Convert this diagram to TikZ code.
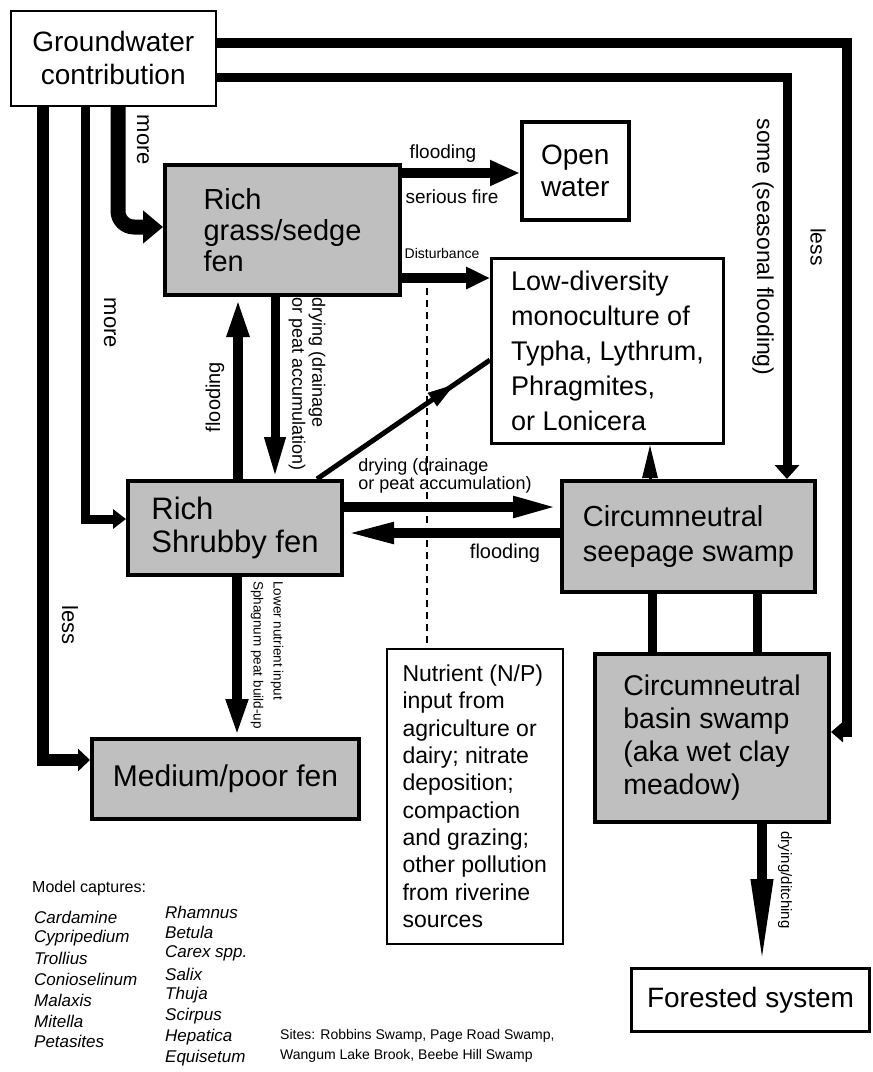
\documentclass[tikz,border=0pt]{standalone}
\usepackage{fontspec}
\setmainfont{Liberation Sans}
\usetikzlibrary{arrows.meta,decorations.markings}
\newcommand\fsz[2]{\fontsize{#1}{#2}\selectfont}
\begin{document}
\begin{tikzpicture}[x=1pt,y=-1pt,
  fenbox/.style={draw, line width=4pt, fill=gray!50, align=left, inner sep=0pt, anchor=north west},
  plainbox/.style={draw, fill=white, inner sep=0pt, anchor=north west},
  flow/.style={line width=#1},
  lbl/.style={inner sep=0pt, align=left},
  vlbl/.style={inner sep=0pt, align=left, rotate=-90},
  spec/.style={inner sep=0pt, anchor=west, font=\fsz{17}{19}\itshape},
]
\useasboundingbox[fill=white] (0,0) rectangle (873,1072);

% ---------- boxes ----------
\node[plainbox, line width=1.5pt, minimum width=205pt, minimum height=95pt, align=center,
      font=\fsz{28}{33}] (gw) at (10,10) {Groundwater\\contribution};
\node[fenbox, minimum width=235pt, minimum height=130pt, font=\fsz{29}{31}] (grass) at (163,163)
      {Rich\\grass/sedge\\fen};
\node[plainbox, line width=3.5pt, minimum width=107pt, minimum height=98pt, align=center,
      font=\fsz{28}{32}] (openw) at (520,120) {Open\\water};
\node[plainbox, line width=3pt, minimum width=232pt, minimum height=185pt, align=left,
      font=\fsz{27}{35}] (lowdiv) at (490,257)
      {Low-diversity\\monoculture of\\Typha, Lythrum,\\Phragmites,\\or Lonicera};
\node[fenbox, minimum width=214pt, minimum height=94pt, font=\fsz{31}{33}] (shrub) at (126,479)
      {Rich\\Shrubby fen};
\node[fenbox, minimum width=253pt, minimum height=111pt, font=\fsz{29}{35}] (seep) at (560,479)
      {Circumneutral\\seepage swamp};
\node[fenbox, minimum width=267pt, minimum height=80pt, font=\fsz{30}{32}] (medium) at (90,737)
      {Medium/poor fen};
\node[fenbox, minimum width=234pt, minimum height=168pt, font=\fsz{28.5}{33}] (basin) at (593,652)
      {Circumneutral\\basin swamp\\(aka wet clay\\meadow)};
\node[plainbox, line width=1.5pt, minimum width=176pt, minimum height=295pt, align=left,
      font=\fsz{23}{27.3}] (nutr) at (386,648)
      {Nutrient (N/P)\\input from\\agriculture or\\dairy; nitrate\\deposition;\\compaction\\and grazing;\\other pollution\\from riverine\\sources};
\node[plainbox, line width=3pt, minimum width=238pt, minimum height=63pt, align=center,
      font=\fsz{28}{32}] (forest) at (630,967) {Forested system};

% ---------- connectors from groundwater ----------
\draw[flow=10pt, -{Triangle[length=12pt,width=20pt]}]
  (gw.east |- 0,43) -| (847,732) -- (basin.east |- 0,732);
\draw[flow=9pt, -{Triangle[length=14pt,width=24pt]}]
  (gw.east |- 0,77) -| (seep.north -| 787,0);
\draw[flow=12pt, -{Triangle[length=12pt,width=22pt]}]
  (gw.south -| 43,0) |- (medium.west |- 0,760);
\draw[flow=9pt, -{Triangle[length=13pt,width=19pt]}]
  (gw.south -| 85,0) |- (shrub.west |- 0,519);
\draw[flow=15pt, rounded corners=16pt, -{Triangle[length=20pt,width=32pt]}]
  (gw.south -| 118,0) |- (grass.west |- 0,227);

% ---------- other connectors ----------
\draw[flow=10pt, -{Triangle[length=30pt,width=24pt]}] (grass.east |- 0,173) -- (openw.west |- 0,173);
\draw[flow=10pt, -{Triangle[length=24pt,width=21pt]}] (grass.east |- 0,278) -- (lowdiv.west |- 0,278);
\draw[flow=10pt, -{Triangle[length=40pt,width=20pt]}] (shrub.north -| 238,0) -- (grass.south -| 238,0);
\draw[flow=9pt, -{Triangle[length=42pt,width=19pt]}] (grass.south -| 275,0) -- (shrub.north -| 275,0);
\draw[flow=5pt, postaction={decorate}, decoration={markings,
      mark=at position 0.8 with {\arrow{Triangle[length=28pt,width=15pt]}}}]
  (shrub.north -| 317,0) -- (lowdiv.west |- 0,360);
\draw[flow=10pt, -{Triangle[length=47pt,width=19pt]}] (shrub.east |- 0,507) -- (seep.west |- 0,507);
\draw[flow=10pt, -{Triangle[length=50pt,width=19pt]}] (seep.west |- 0,533) -- (shrub.east |- 0,533);
\draw[flow=3pt, -{Triangle[length=33pt,width=15pt]}] (seep.north -| 650,0) -- (lowdiv.south -| 650,0);
\draw[flow=9pt] (seep.south -| 652,0) -- (basin.north -| 652,0);
\draw[flow=9pt] (seep.south -| 757,0) -- (basin.north -| 757,0);
\draw[flow=10pt, -{Triangle[length=38pt,width=20pt]}] (shrub.south -| 237,0) -- (medium.north -| 237,0);
\draw[flow=10pt, -{Triangle[length=88pt,width=20pt]}] (basin.south -| 762,0) -- (forest.north -| 762,0);
\coordinate (dtop) at (427,288);
\draw[line width=1.2pt, dash pattern=on 7pt off 5pt] (dtop) -- (nutr.north -| 427,0);

% ---------- labels ----------
\node[vlbl, font=\fsz{22}{24}] (lmore1) at (143,140) {more};
\node[vlbl, font=\fsz{22}{24}] (lmore2) at (110,323) {more};
\node[vlbl, font=\fsz{22}{24}] (lless1) at (70,625) {less};
\node[lbl, font=\fsz{19}{21}] (lflood1) at (443,154) {flooding};
\node[lbl, font=\fsz{19}{21}] (lfire) at (452,197) {serious fire};
\node[lbl, font=\fsz{14}{16}] (ldist) at (442,253) {Disturbance};
\node[lbl, rotate=90, font=\fsz{20}{22}] (lflood2) at (215,397) {flooding};
\node[vlbl, font=\fsz{18}{20}] (ldry1) at (307,384) {drying (drainage\\or peat accumulation)};
\node[lbl, font=\fsz{18}{18}] (ldry2) at (445,476) {drying (drainage\\or peat accumulation)};
\node[lbl, font=\fsz{20}{22}] (lflood3) at (505,553) {flooding};
\node[vlbl, font=\fsz{13.5}{20}] (llow) at (267,655) {Lower nutrient input\\Sphagnum peat build-up};
\node[vlbl, font=\fsz{23}{25}] (lsome) at (763,247) {some (seasonal flooding)};
\node[vlbl, font=\fsz{21}{23}] (lless2) at (818,247) {less};
\node[vlbl, font=\fsz{15}{17}] (lditch) at (785,880) {drying/ditching};

% ---------- legend ----------
\node[inner sep=0pt, anchor=west, font=\fsz{16}{18}] (mcap) at (32,888) {Model captures:};
\foreach \t [count=\i] in {Cardamine,Cypripedium,Trollius,Conioselinum,Malaxis,Mitella,Petasites}
  \node[spec] (sa\i) at (34,{917+20.8*(\i-1)}) {\t};
\foreach \t [count=\i] in {Rhamnus,Betula,Carex spp.,Salix,Thuja,Scirpus,Hepatica,Equisetum}
  \node[spec] (sb\i) at (165,{912+20.8*(\i-1)}) {\t};
\node[inner sep=0pt, anchor=north west, align=left, font=\fsz{14}{20.5}] (sites) at (280,1029)
  {Sites: Robbins Swamp, Page Road Swamp,\\Wangum Lake Brook, Beebe Hill Swamp};
\end{tikzpicture}
\end{document}
